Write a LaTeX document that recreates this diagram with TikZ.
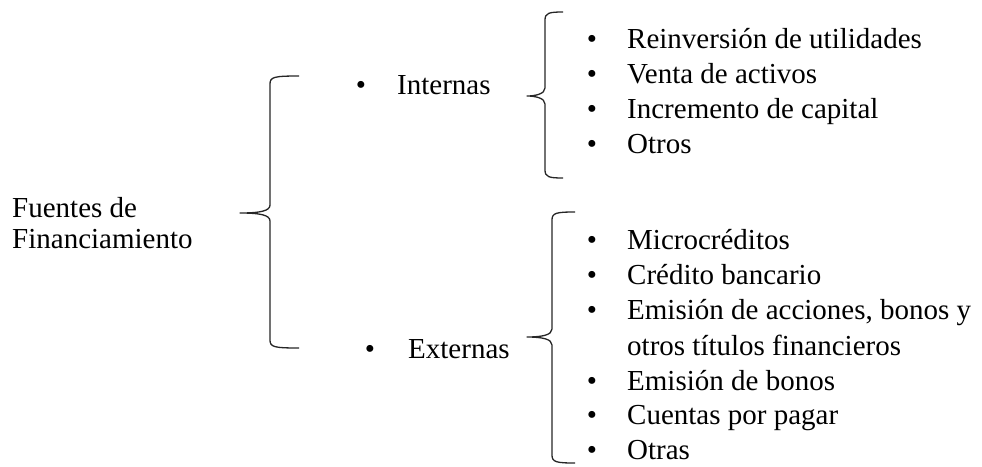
\documentclass[tikz,border=0pt]{standalone}
\usepackage{fontspec}
\setmainfont{Liberation Serif}
\newcommand\drawbrc[6]{% #1 spine x, #2 top y, #3 tip y, #4 bottom y, #5 tip x, #6 end x
  \draw[bracestyle] (#6,#2) .. controls (#1+4,#2) and (#1,#2+1) .. (#1,#2+8)
    -- (#1,#3-8) .. controls (#1,#3-2) and (#1-10,#3) .. (#5,#3)
    .. controls (#1-10,#3) and (#1,#3+2) .. (#1,#3+8)
    -- (#1,#4-8) .. controls (#1,#4-1) and (#1+4,#4) .. (#6,#4);}
\begin{document}
\begin{tikzpicture}[x=1pt,y=-1pt,
  txt/.style={anchor=base west,inner sep=0pt,font=\fontsize{29}{35}\selectfont},
  bul/.style={anchor=base,inner sep=0pt,font=\fontsize{29}{35}\selectfont},
  bracestyle/.style={line width=1.3pt,line join=round,black!85}]
\useasboundingbox (0,0) rectangle (982,466);
% root
\node[txt] (f1) at (12,217) {Fuentes de};
\node[txt] (f2) at (12,248) {Financiamiento};
\drawbrc{270}{76}{213}{348}{240}{299}
% internas / externas
\node[bul] (bi) at (361,94) {\textbullet};
\node[txt] (int) at (397,94) {Internas};
\node[bul] (be) at (370,358) {\textbullet};
\node[txt] (ext) at (408,358) {Externas};
\drawbrc{545}{12}{96}{178}{527}{563}
\drawbrc{552}{212}{337}{463}{527}{575}
% internal list
\foreach \t/\y [count=\i] in {Reinversión de utilidades/48, Venta de activos/83, Incremento de capital/118, Otros/153}{
  \node[bul] (ib\i) at (592,\y) {\textbullet};
  \node[txt] (it\i) at (627,\y) {\t};
}
% external list
\foreach \t/\y [count=\i] in {Microcréditos/249, Crédito bancario/284, {Emisión de acciones, bonos y}/319, Emisión de bonos/390, Cuentas por pagar/424, Otras/459}{
  \node[bul] (eb\i) at (592,\y) {\textbullet};
  \node[txt] (et\i) at (627,\y) {\t};
}
\node[txt] (et3b) at (627,355) {otros títulos financieros};
\end{tikzpicture}
\end{document}
